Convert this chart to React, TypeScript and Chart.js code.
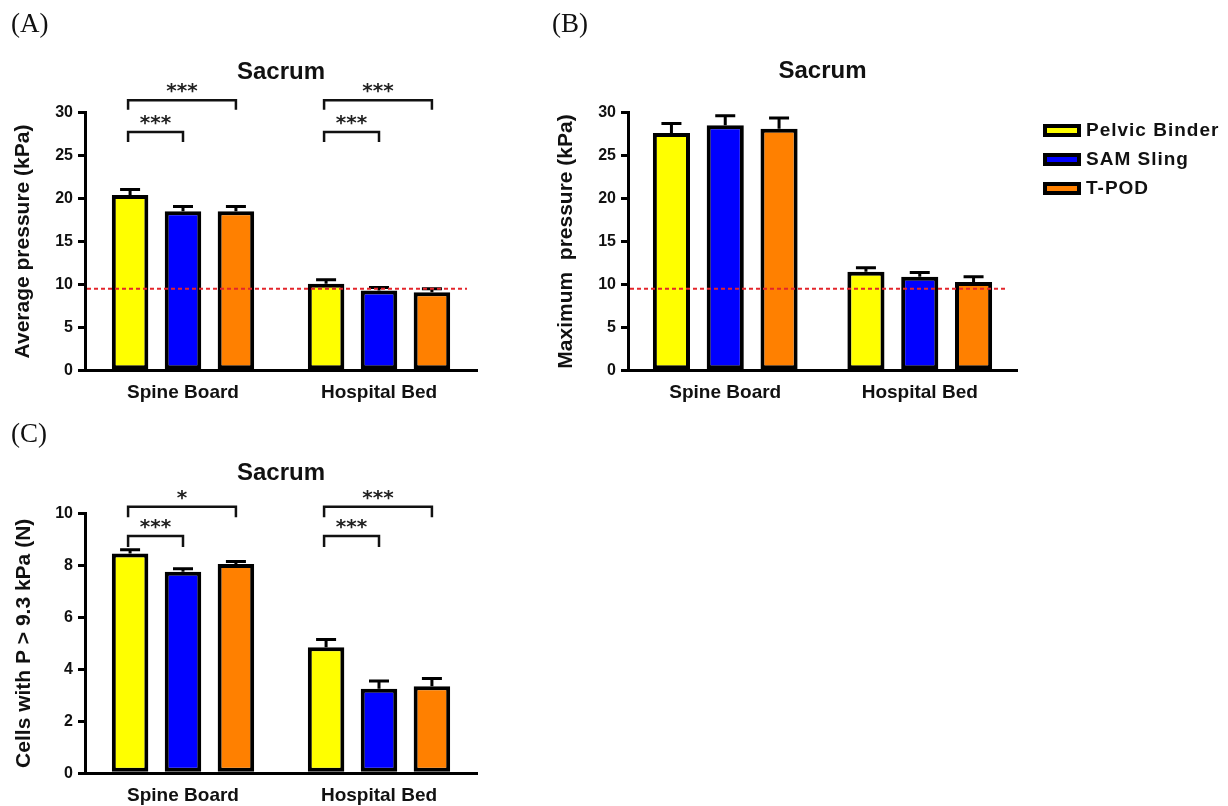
import React, { useEffect, useRef } from 'react';
import { Chart, registerables } from 'chart.js';

Chart.register(...registerables);

// ---------- data ----------
const categories = ['Spine Board', 'Hospital Bed'];
const seriesNames = ['Pelvic Binder', 'SAM Sling', 'T-POD'];
const seriesColors = ['#FFFF00', '#0000FF', '#FF8000'];

// (A) Average pressure (kPa)
const avgBinder = [20.4, 10.1];
const avgSam = [18.5, 9.3];
const avgTpod = [18.5, 9.1];
const avgBinderErr = [0.65, 0.45];
const avgSamErr = [0.55, 0.35];
const avgTpodErr = [0.55, 0.4];

// (B) Maximum pressure (kPa)
const maxBinder = [27.6, 11.5];
const maxSam = [28.5, 10.9];
const maxTpod = [28.1, 10.3];
const maxBinderErr = [1.1, 0.45];
const maxSamErr = [1.1, 0.5];
const maxTpodErr = [1.25, 0.6];

// (C) Cells with P > 9.3 kPa (N)
const cellBinder = [8.45, 4.85];
const cellSam = [7.75, 3.25];
const cellTpod = [8.05, 3.35];
const cellBinderErr = [0.15, 0.3];
const cellSamErr = [0.12, 0.3];
const cellTpodErr = [0.1, 0.3];

const pressureTickMax = 30;
const pressureTickStep = 5;
const cellTickMax = 10;
const cellTickStep = 2;
const thresholdValue = 9.5;

// significance brackets: group index, from/to series index, level and leg end (data units), label
const avgBrackets = [
  { group: 0, from: 0, to: 2, level: 31.4, leg: 30.3, label: '***' },
  { group: 0, from: 0, to: 1, level: 27.7, leg: 26.55, label: '***' },
  { group: 1, from: 0, to: 2, level: 31.4, leg: 30.3, label: '***' },
  { group: 1, from: 0, to: 1, level: 27.7, leg: 26.55, label: '***' },
];
const cellBrackets = [
  { group: 0, from: 0, to: 2, level: 10.25, leg: 9.85, label: '*' },
  { group: 0, from: 0, to: 1, level: 9.13, leg: 8.7, label: '***' },
  { group: 1, from: 0, to: 2, level: 10.25, leg: 9.85, label: '***' },
  { group: 1, from: 0, to: 1, level: 9.13, leg: 8.7, label: '***' },
];

// ---------- plugin ----------
const extrasPlugin = {
  id: 'panelExtras',
  afterDatasetsDraw(chart: any) {
    const ctx = chart.ctx;
    const yScale = chart.scales.y;
    // error bars (upper half)
    ctx.save();
    ctx.strokeStyle = '#000';
    ctx.lineWidth = 3;
    chart.data.datasets.forEach((ds: any, i: number) => {
      const meta = chart.getDatasetMeta(i);
      meta.data.forEach((el: any, j: number) => {
        const v = ds.data[j];
        const e = ds.errors ? ds.errors[j] : 0;
        const yTop = yScale.getPixelForValue(v);
        const yErr = yScale.getPixelForValue(v + e);
        ctx.beginPath();
        ctx.moveTo(el.x, yTop);
        ctx.lineTo(el.x, yErr);
        ctx.moveTo(el.x - 10, yErr);
        ctx.lineTo(el.x + 10, yErr);
        ctx.stroke();
      });
    });
    ctx.restore();
  },
  afterDraw(chart: any) {
    const opts = chart.options.plugins.panelExtras || {};
    const ctx = chart.ctx;
    const yScale = chart.scales.y;
    const area = chart.chartArea;
    // threshold line
    if (opts.threshold != null) {
      const y = yScale.getPixelForValue(opts.threshold);
      ctx.save();
      ctx.strokeStyle = '#E3252B';
      ctx.lineWidth = 2;
      ctx.setLineDash([4, 3]);
      ctx.beginPath();
      ctx.moveTo(area.left + 2, y);
      ctx.lineTo(area.right - 10, y);
      ctx.stroke();
      ctx.restore();
    }
    // brackets
    if (opts.brackets) {
      ctx.save();
      ctx.strokeStyle = '#111';
      ctx.lineWidth = 2.5;
      ctx.fillStyle = '#222';
      ctx.font = "bold 20px 'DejaVu Sans', sans-serif";
      ctx.textAlign = 'center';
      ctx.textBaseline = 'alphabetic';
      opts.brackets.forEach((b: any) => {
        const x1 = chart.getDatasetMeta(b.from).data[b.group].x - 2;
        const x2 = chart.getDatasetMeta(b.to).data[b.group].x;
        const yl = yScale.getPixelForValue(b.level);
        const yg = yScale.getPixelForValue(b.leg);
        ctx.beginPath();
        ctx.moveTo(x1, yg);
        ctx.lineTo(x1, yl);
        ctx.lineTo(x2, yl);
        ctx.lineTo(x2, yg);
        ctx.stroke();
        ctx.fillText(b.label, (x1 + x2) / 2, yl - 3);
      });
      ctx.restore();
    }
    // legend
    if (opts.legend) {
      const L = opts.legend;
      ctx.save();
      ctx.font = "bold 19px 'Liberation Sans', Arial, sans-serif";
      try { (ctx as any).letterSpacing = '1px'; } catch (e) {}
      ctx.textAlign = 'left';
      ctx.textBaseline = 'middle';
      chart.data.datasets.forEach((ds: any, i: number) => {
        const top = L.y0 + i * L.dy;
        ctx.fillStyle = ds.backgroundColor;
        ctx.fillRect(L.x, top, L.boxW, L.boxH);
        ctx.strokeStyle = '#000';
        ctx.lineWidth = 4;
        ctx.strokeRect(L.x + 2, top + 2, L.boxW - 4, L.boxH - 4);
        ctx.fillStyle = '#111';
        ctx.fillText(ds.label, L.x + L.boxW + 5, top + L.boxH / 2);
      });
      ctx.restore();
    }
  },
};

// ---------- config builder ----------
type PanelSpec = {
  values: number[][];
  errors: number[][];
  yMax: number;
  yStep: number;
  yTitle: string;
  w: number;
  h: number;
  area: { left: number; right: number; top: number; bottom: number };
  titleY: number;
  yTitleX: number;
  cp: number;
  bp: number;
  brackets?: any[];
  threshold?: number | null;
  legend?: any;
};

const FONT = "'Liberation Sans', Arial, sans-serif";

function makeConfig(p: PanelSpec): any {
  const titleSize = 24;
  const titleLH = titleSize * 1.2;
  const yTitleSize = 21;
  return {
    type: 'bar',
    data: {
      labels: categories,
      datasets: seriesNames.map((name, i) => ({
        label: name,
        data: p.values[i],
        errors: p.errors[i],
        backgroundColor: seriesColors[i],
        borderColor: '#000',
        borderWidth: 4,
        borderSkipped: false,
        categoryPercentage: p.cp,
        barPercentage: p.bp,
      })),
    },
    options: {
      responsive: false,
      animation: false,
      layout: { padding: { left: 0, top: 0, right: p.w - p.area.right, bottom: 0 } },
      plugins: {
        legend: { display: false },
        tooltip: { enabled: false },
        title: {
          display: true,
          text: 'Sacrum',
          fullSize: false,
          color: '#111',
          font: { family: FONT, size: titleSize, weight: 'bold', lineHeight: 1.2 },
          padding: { top: p.titleY - titleLH / 2, bottom: p.area.top - p.titleY - titleLH / 2 },
        },
        panelExtras: {
          brackets: p.brackets,
          threshold: p.threshold,
          legend: p.legend,
        },
      },
      scales: {
        x: {
          type: 'category',
          offset: true,
          grid: { display: false },
          border: { display: true, color: '#000', width: 3 },
          ticks: {
            color: '#111',
            padding: 3,
            maxRotation: 0,
            autoSkip: false,
            font: { family: FONT, size: 19, weight: 'bold' },
          },
          afterFit: (s: any) => {
            s.height = p.h - p.area.bottom;
          },
        },
        y: {
          min: 0,
          max: p.yMax,
          grid: {
            display: true,
            drawOnChartArea: false,
            drawTicks: true,
            tickLength: 7,
            color: '#000',
            lineWidth: 3,
          },
          border: { display: true, color: '#000', width: 3 },
          ticks: {
            stepSize: p.yStep,
            color: '#111',
            padding: 5,
            font: { family: FONT, size: 16, weight: 'bold' },
          },
          title: {
            display: true,
            text: p.yTitle,
            color: '#111',
            font: { family: FONT, size: yTitleSize, weight: 'bold', lineHeight: 1.2 },
            padding: { top: p.yTitleX - (yTitleSize * 1.2) / 2, bottom: 0 },
          },
          afterFit: (s: any) => {
            s.width = p.area.left;
          },
        },
      },
    },
    plugins: [extrasPlugin],
  };
}

const panelA: PanelSpec = {
  values: [avgBinder, avgSam, avgTpod],
  errors: [avgBinderErr, avgSamErr, avgTpodErr],
  yMax: pressureTickMax,
  yStep: pressureTickStep,
  yTitle: 'Average pressure (kPa)',
  w: 490,
  h: 410,
  area: { left: 85, right: 477, top: 112.3, bottom: 370.7 },
  titleY: 72.7,
  yTitleX: 23,
  cp: 0.81,
  bp: 0.69,
  brackets: avgBrackets,
  threshold: thresholdValue,
};

const panelB: PanelSpec = {
  values: [maxBinder, maxSam, maxTpod],
  errors: [maxBinderErr, maxSamErr, maxTpodErr],
  yMax: pressureTickMax,
  yStep: pressureTickStep,
  yTitle: 'Maximum  pressure (kPa)',
  w: 688,
  h: 410,
  area: { left: 88, right: 477, top: 112.3, bottom: 370.7 },
  titleY: 71.7,
  yTitleX: 26,
  cp: 0.83,
  bp: 0.69,
  threshold: thresholdValue,
  legend: { x: 503, y0: 124, dy: 29, boxW: 38, boxH: 13 },
};

const panelC: PanelSpec = {
  values: [cellBinder, cellSam, cellTpod],
  errors: [cellBinderErr, cellSamErr, cellTpodErr],
  yMax: cellTickMax,
  yStep: cellTickStep,
  yTitle: 'Cells with P > 9.3 kPa (N)',
  w: 490,
  h: 401,
  area: { left: 85, right: 477, top: 108.3, bottom: 368.3 },
  titleY: 68.3,
  yTitleX: 24,
  cp: 0.81,
  bp: 0.69,
  brackets: cellBrackets,
  threshold: null,
};

function Panel({ spec, left, top }: { spec: PanelSpec; left: number; top: number }) {
  const ref = useRef<HTMLCanvasElement>(null);
  useEffect(() => {
    const chart = new Chart(ref.current as HTMLCanvasElement, makeConfig(spec));
    return () => chart.destroy();
  }, [spec]);
  return (
    <div style={{ position: 'absolute', left, top, width: spec.w, height: spec.h }}>
      <canvas ref={ref} width={spec.w} height={spec.h} style={{ width: spec.w, height: spec.h, display: 'block' }} />
    </div>
  );
}

const labelStyle: React.CSSProperties = {
  position: 'absolute',
  fontFamily: "'Liberation Serif', 'Times New Roman', serif",
  fontSize: 27,
  lineHeight: 1,
  color: '#111',
};

export default function App() {
  return (
    <div style={{ position: 'absolute', left: 0, top: 0, width: 1228, height: 806, background: '#fff', overflow: 'hidden' }}>
      <Panel spec={panelA} left={0} top={0} />
      <Panel spec={panelB} left={540} top={0} />
      <Panel spec={panelC} left={0} top={405} />
      <div style={{ ...labelStyle, left: 11, top: 10 }}>(A)</div>
      <div style={{ ...labelStyle, left: 552, top: 10 }}>(B)</div>
      <div style={{ ...labelStyle, left: 11, top: 420 }}>(C)</div>
    </div>
  );
}
